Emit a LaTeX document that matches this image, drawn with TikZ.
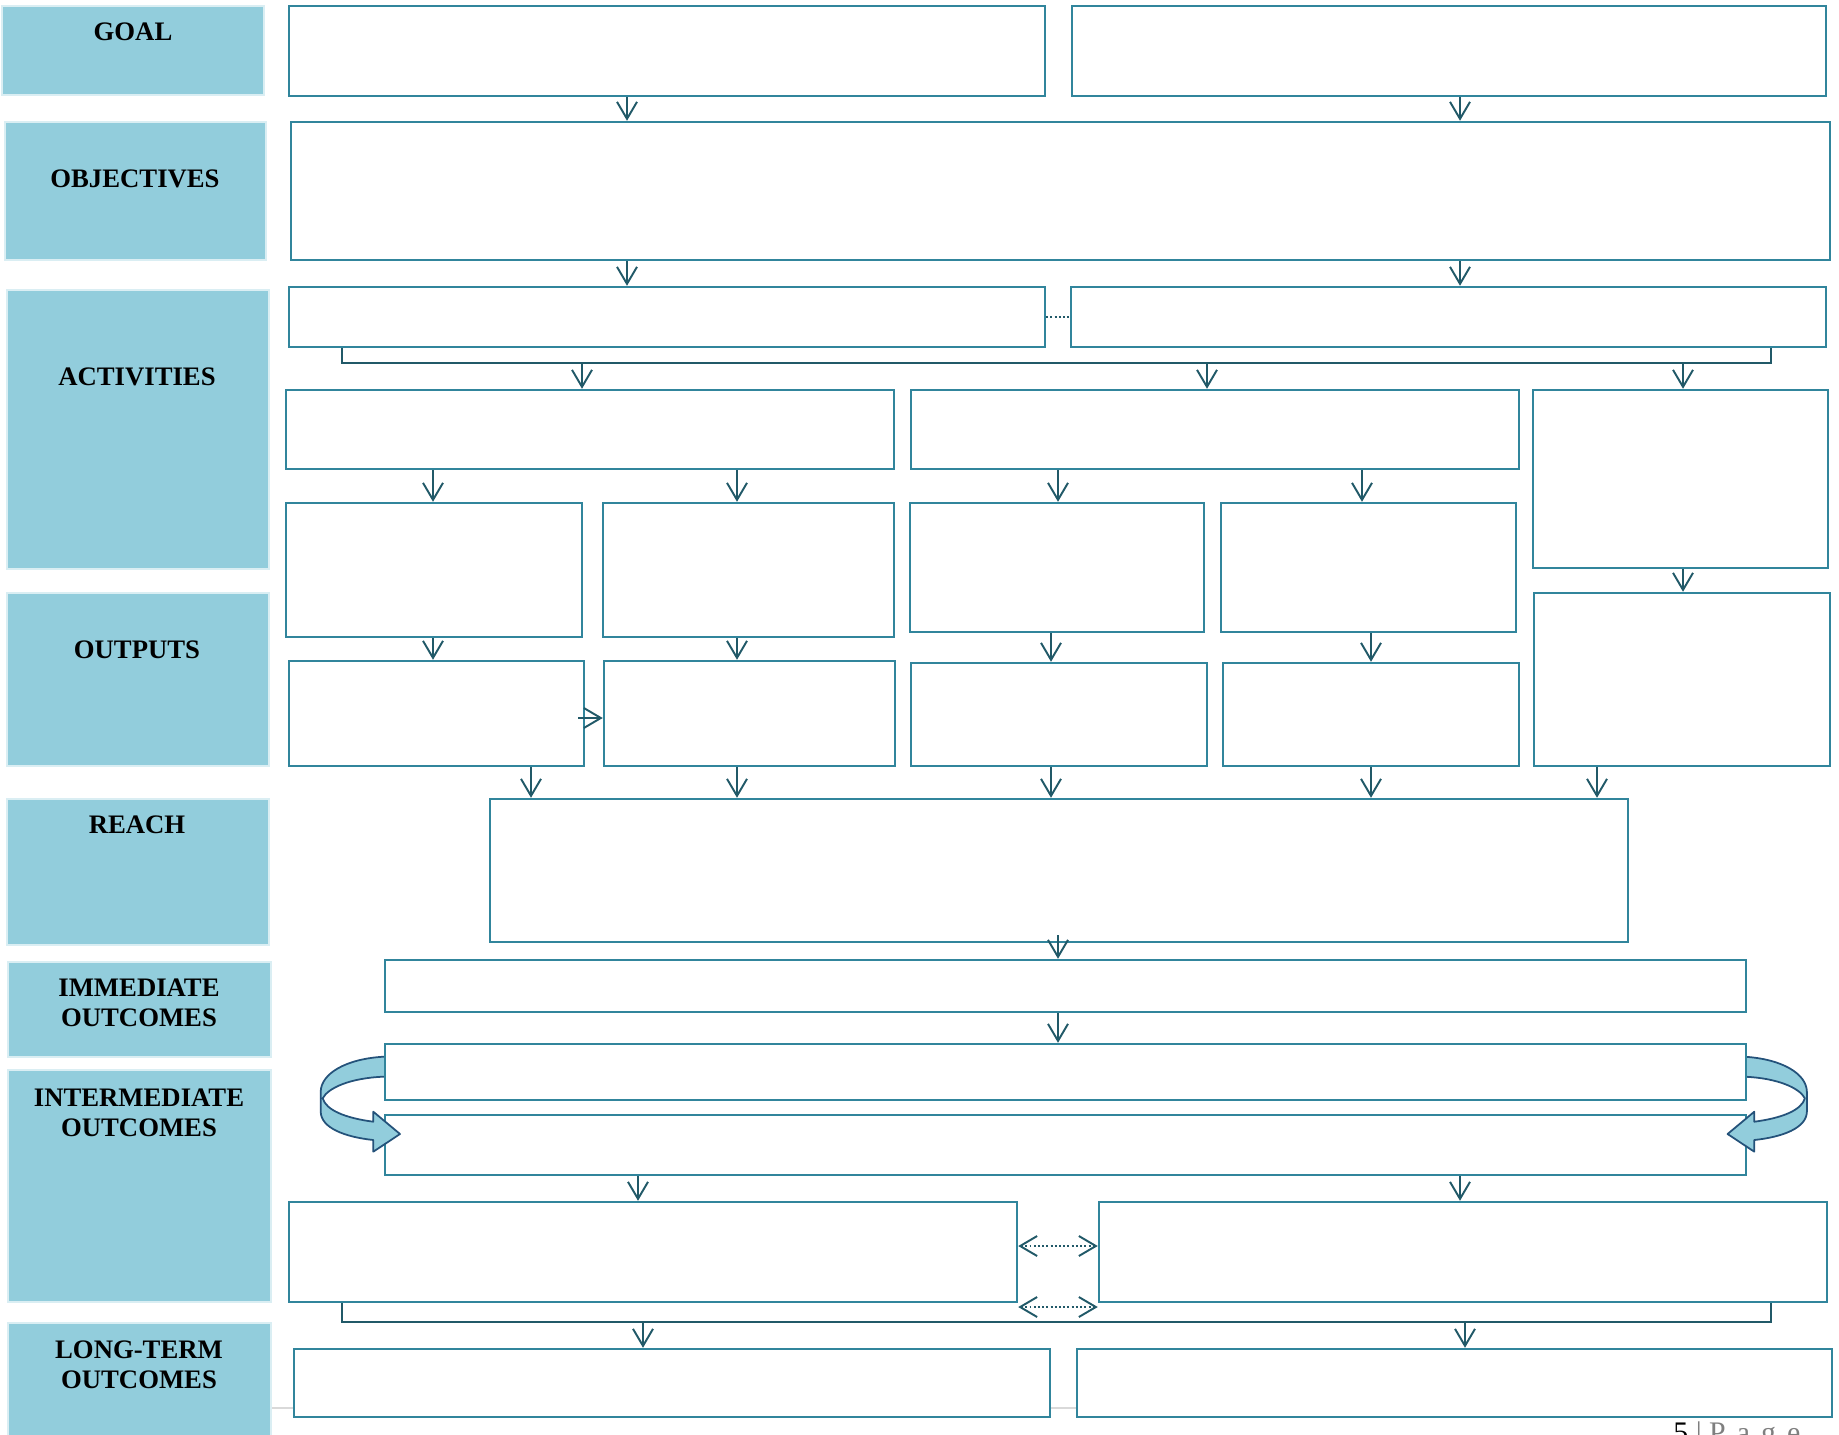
\documentclass[tikz,border=0pt]{standalone}
\usepackage{fontspec}
\setmainfont{Liberation Serif}
\usetikzlibrary{arrows.meta,calc}
\definecolor{lmteal}{HTML}{31859C}
\definecolor{lmdark}{HTML}{215968}
\definecolor{lmaqua}{HTML}{92CDDC}
\definecolor{lmpale}{HTML}{DAEEF3}
\definecolor{lmnavy}{HTML}{24527A}
\definecolor{lmgray}{HTML}{D9D9D9}
\definecolor{lmpage}{HTML}{7F7F7F}

\begin{document}
\begin{tikzpicture}[x=0.02cm,y=-0.02cm,
  box/.style={draw=lmteal,fill=white,line width=1.4pt,inner sep=0pt},
  lab/.style={draw=lmpale,fill=lmaqua,line width=1.6pt,inner sep=0pt},
  wh/.style 2 args={minimum width=#1*0.02cm,minimum height=#2*0.02cm},
  labtext/.style={font=\fontsize{15.2}{17}\selectfont\bfseries,align=center,
    text depth=0pt,inner sep=0pt},
  arr/.style={-{Straight Barb[length=0.34cm,width=0.4cm]},lmdark,line width=1.1pt},
  twoway/.style={{Straight Barb[length=0.34cm,width=0.4cm]}-{Straight Barb[length=0.34cm,width=0.4cm]},
    lmdark,line width=1.1pt,dash pattern=on 1.1pt off 1.3pt},
  dots/.style={lmdark,line width=1.1pt,dash pattern=on 1.1pt off 1.3pt},
  brace/.style={lmdark,line width=1.1pt},
  turn/.style={fill=lmaqua,draw=lmnavy,line width=1pt,line join=round}
]
  \useasboundingbox (0,0) rectangle (1839,1434);

  % footer rule behind the last row
  \draw[lmgray,line width=1.2pt] (272,1408) -- (1832,1408);

  % Row labels
  \node[lab,wh={262}{89}] (labGoal) at (133,50.5) {};
  \node[lab,wh={261}{138}] (labObj) at (135.5,191) {};
  \node[lab,wh={262}{279}] (labAct) at (138,429.5) {};
  \node[lab,wh={262}{173}] (labOut) at (138,679.5) {};
  \node[lab,wh={262}{146}] (labReach) at (138,872) {};
  \node[lab,wh={263}{95}] (labImm) at (139.5,1009.5) {};
  \node[lab,wh={263}{232}] (labInt) at (139.5,1186) {};
  \node[lab,wh={263}{127}] (labLong) at (139.5,1386.5) {};
  \node[labtext] (tGoal) at (133,32) {GOAL};
  \node[labtext] (tObj) at (135,179) {OBJECTIVES};
  \node[labtext] (tAct) at (137,376.5) {ACTIVITIES};
  \node[labtext] (tOut) at (137,650) {OUTPUTS};
  \node[labtext] (tReach) at (137,824.5) {REACH};
  \node[labtext] (tImm) at (139,1003) {IMMEDIATE\\OUTCOMES};
  \node[labtext] (tInt) at (139,1112.5) {INTERMEDIATE\\OUTCOMES};
  \node[labtext] (tLong) at (139,1365) {LONG-TERM\\OUTCOMES};

  % Goal and objectives
  \node[box,wh={756}{90}] (goalL) at (667,51) {};
  \node[box,wh={754}{90}] (goalR) at (1449,51) {};
  \node[box,wh={1539}{138}] (obj) at (1060.5,191) {};

  % Activities
  \node[box,wh={756}{60}] (actL) at (667,317) {};
  \node[box,wh={755}{60}] (actR) at (1448.5,317) {};
  \node[box,wh={608}{79}] (actA) at (590,429.5) {};
  \node[box,wh={608}{79}] (actB) at (1215,429.5) {};
  \node[box,wh={295}{178}] (actC) at (1680.5,479) {};
  \node[box,wh={296}{134}] (actD) at (434,570) {};
  \node[box,wh={291}{134}] (actE) at (748.5,570) {};
  \node[box,wh={294}{129}] (actF) at (1057,567.5) {};
  \node[box,wh={295}{129}] (actG) at (1368.5,567.5) {};

  % Outputs
  \node[box,wh={296}{173}] (outH) at (1682,679.5) {};
  \node[box,wh={295}{105}] (outI) at (436.5,713.5) {};
  \node[box,wh={291}{105}] (outJ) at (749.5,713.5) {};
  \node[box,wh={296}{103}] (outK) at (1059,714.5) {};
  \node[box,wh={296}{103}] (outL) at (1371,714.5) {};

  % Reach and outcomes
  \node[box,wh={1138}{143}] (reach) at (1059,870.5) {};
  \node[box,wh={1361}{52}] (imm) at (1065.5,986) {};
  \node[box,wh={1361}{60}] (intB) at (1065.5,1145) {};

  % Loop arrows round the intermediate pair
  \path[turn] (392,1056.7) -- (383.3,1056.7) .. controls (345,1059) and (321,1074) .. (320.7,1091.7)
    -- (320.7,1111.7) .. controls (321,1128) and (345,1137) .. (373.3,1140)
    -- (373.3,1151.7) -- (400,1134) -- (373.3,1111.7) -- (373.3,1121.7)
    .. controls (345,1118) and (326,1110) .. (322.7,1098.3)
    .. controls (328,1088) and (350,1078) .. (383.3,1076.7) -- (392,1076.7) -- cycle;
  \begin{scope}[xshift=42.56cm,xscale=-1]
    \path[turn] (392,1056.7) -- (383.3,1056.7) .. controls (345,1059) and (321,1074) .. (320.7,1091.7)
      -- (320.7,1111.7) .. controls (321,1128) and (345,1137) .. (373.3,1140)
      -- (373.3,1151.7) -- (400,1134) -- (373.3,1111.7) -- (373.3,1121.7)
      .. controls (345,1118) and (326,1110) .. (322.7,1098.3)
      .. controls (328,1088) and (350,1078) .. (383.3,1076.7) -- (392,1076.7) -- cycle;
  \end{scope}
  \node[box,wh={1361}{56}] (intA) at (1065.5,1072) {};

  \node[box,wh={728}{100}] (intM) at (653,1252) {};
  \node[box,wh={728}{100}] (intN) at (1463,1252) {};
  \node[box,wh={756}{68}] (longO) at (672,1383) {};
  \node[box,wh={755}{68}] (longP) at (1454.5,1383) {};

  % Connectors
  \foreach \xx in {627,1460} {
    \draw[arr] (\xx,0 |- goalL.south) -- (\xx,0 |- obj.north);
    \draw[arr] (\xx,0 |- obj.south) -- (\xx,0 |- actL.north);
  }
  \draw[dots] (actL.east) -- (actR.west);
  \draw[brace] (342,0 |- actL.south) -- (342,363) coordinate (brA)
    -- (1771,363) -- (1771,0 |- actR.south);
  \draw[arr] (582,363) -- (582,0 |- actA.north);
  \draw[arr] (1207,363) -- (1207,0 |- actB.north);
  \draw[arr] (1683,363) -- (1683,0 |- actC.north);
  \draw[arr] (433,0 |- actA.south) -- (433,0 |- actD.north);
  \draw[arr] (737,0 |- actA.south) -- (737,0 |- actE.north);
  \draw[arr] (1058,0 |- actB.south) -- (1058,0 |- actF.north);
  \draw[arr] (1362,0 |- actB.south) -- (1362,0 |- actG.north);
  \draw[arr] (1683,0 |- actC.south) -- (1683,0 |- outH.north);
  \draw[arr] (433,0 |- actD.south) -- (433,0 |- outI.north);
  \draw[arr] (737,0 |- actE.south) -- (737,0 |- outJ.north);
  \draw[arr] (1051,0 |- actF.south) -- (1051,0 |- outK.north);
  \draw[arr] (1371,0 |- actG.south) -- (1371,0 |- outL.north);
  \draw[arr] (578,718) -- (outJ.west |- 0,718);
  \draw[arr] (531,0 |- outI.south) -- (531,0 |- reach.north);
  \draw[arr] (737,0 |- outJ.south) -- (737,0 |- reach.north);
  \draw[arr] (1051,0 |- outK.south) -- (1051,0 |- reach.north);
  \draw[arr] (1371,0 |- outL.south) -- (1371,0 |- reach.north);
  \draw[arr] (1597,0 |- outH.south) -- (1597,0 |- reach.north);
  \draw[arr] ($(reach.south)+(-1,-8)$) -- (1058,0 |- imm.north);
  \draw[arr] (1058,0 |- imm.south) -- (1058,0 |- intA.north);
  \draw[arr] (638,0 |- intB.south) -- (638,0 |- intM.north);
  \draw[arr] (1460,0 |- intB.south) -- (1460,0 |- intN.north);
  \draw[twoway] (intM.east |- 0,1246) -- (intN.west |- 0,1246);
  \draw[twoway] (intM.east |- 0,1307) -- (intN.west |- 0,1307);
  \draw[brace] (342,0 |- intM.south) -- (342,1322) coordinate (brB)
    -- (1771,1322) -- (1771,0 |- intN.south);
  \draw[arr] (643,1322) -- (643,0 |- longO.north);
  \draw[arr] (1465,1322) -- (1465,0 |- longP.north);

  % page number
  \node[anchor=base west,inner sep=0pt,font=\fontsize{17}{17}\selectfont] (pageno) at (1673,1442)
    {5 {\color{lmpage}| P\hspace{0.12em} a\hspace{0.12em} g\hspace{0.12em} e}};
\end{tikzpicture}
\end{document}
